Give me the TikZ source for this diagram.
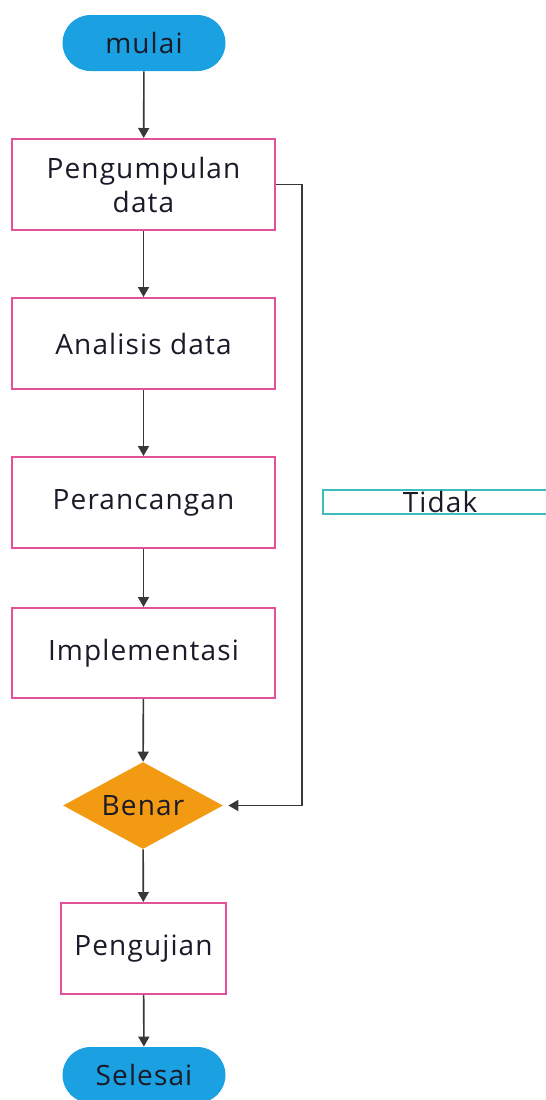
\documentclass[tikz,border=0pt]{standalone}
\usepackage{fontspec}
\setmainfont[LetterSpace=4]{Open Sans}
\usetikzlibrary{shapes.geometric,arrows.meta}
\definecolor{termblue}{HTML}{1BA1E2}
\definecolor{boxpink}{HTML}{E4509A}
\definecolor{decorange}{HTML}{F29A12}
\definecolor{tealline}{HTML}{3DBDBD}
\definecolor{txt}{HTML}{1A1A28}
\definecolor{linegray}{HTML}{383838}
\tikzset{
  every node/.style={font=\fontsize{14}{17}\selectfont, text=txt, inner sep=0pt},
  term/.style={fill=termblue, rounded corners=14pt, minimum width=81.5pt, minimum height=28pt},
  procbox/.style={draw=boxpink, line width=1pt, fill=white, minimum width=131.5pt, minimum height=45.5pt, align=center},
  decision/.style={diamond, fill=decorange, aspect=1.84, minimum width=80pt, minimum height=43.5pt},
  labelbox/.style={draw=tealline, line width=1pt, minimum width=117pt, minimum height=12pt},
  arr/.style={draw=linegray, line width=0.8pt, -{Triangle[width=5.5pt,length=5pt]}}
}
\begin{document}
\begin{tikzpicture}[x=0.5pt,y=-0.5pt]
\useasboundingbox (0,0) rectangle (546,1100);
\clip (0,0) rectangle (546,1100);
\node[term] (mulai) at (144,43) {mulai};
\node[procbox] (p1) at (143.5,184.5) {Pengumpulan\\data};
\node[procbox] (p2) at (143.5,343.5) {Analisis data};
\node[procbox] (p3) at (143.5,502.5) {Perancangan};
\node[procbox, minimum height=45pt] (p4) at (143.5,653) {Implementasi};
\node[decision] (benar) at (143,805.5) {Benar};
\node[procbox, minimum width=82.5pt] (uji) at (143.5,948.5) {Pengujian};
\node[term] (selesai) at (144,1075) {Selesai};
\node[labelbox] (tidak) at (440,502) {Tidak};
\coordinate (corner) at (302,805.5);
\draw[arr] (mulai) -- (p1);
\draw[arr] (p1) -- (p2);
\draw[arr] (p2) -- (p3);
\draw[arr] (p3) -- (p4);
\draw[arr] (p4) -- (benar);
\draw[arr] (benar) -- (uji);
\draw[arr] (uji) -- (selesai);
\draw[arr, shorten >=2.5pt] (p1.east) -| (corner) -- (benar.east);
\end{tikzpicture}
\end{document}
